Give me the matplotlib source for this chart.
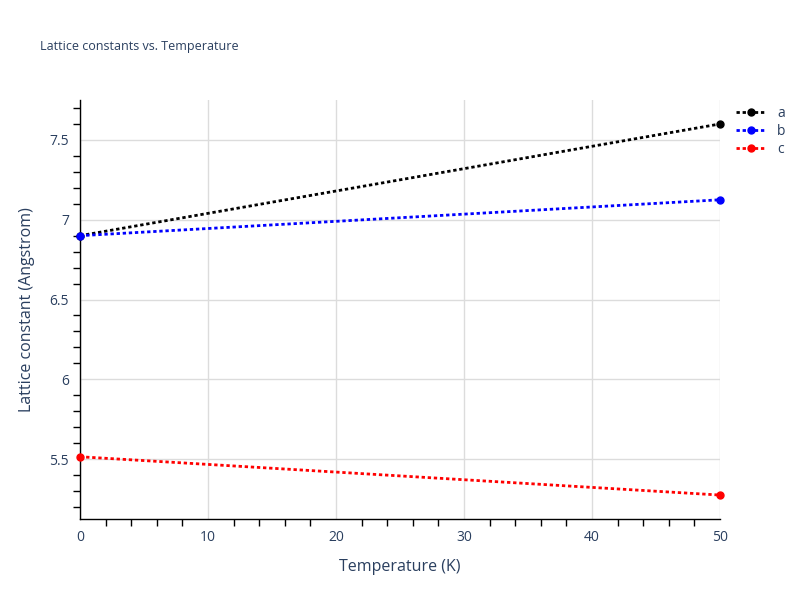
import matplotlib.pyplot as plt
from matplotlib.ticker import MultipleLocator

# Lattice constants vs temperature
temperature = [0, 50]
a_vals = [6.90, 7.60]
b_vals = [6.90, 7.125]
c_vals = [5.515, 5.275]
series_names = ["a", "b", "c"]
series_colors = ["black", "blue", "red"]

plt.rcParams["font.family"] = ["Open Sans", "DejaVu Sans"]
text_color = "#2a3f5f"

fig = plt.figure(figsize=(8, 6), dpi=100)
ax = fig.add_axes([0.1, 0.135, 0.8, 0.6983])

for vals, name, col in zip([a_vals, b_vals, c_vals], series_names, series_colors):
    ax.plot(temperature, vals, linestyle=(0, (1.2, 1.0)), linewidth=2, color=col,
            marker="o", markersize=5, label=name, clip_on=False, zorder=3)

ax.set_xlim(0, 50)
ax.set_ylim(5.125, 7.75)
ax.xaxis.set_major_locator(MultipleLocator(10))
ax.xaxis.set_minor_locator(MultipleLocator(2))
ax.yaxis.set_major_locator(MultipleLocator(0.5))
ax.yaxis.set_minor_locator(MultipleLocator(0.1))
ax.yaxis.set_major_formatter(plt.FuncFormatter(lambda v, p: f"{v:g}"))

ax.grid(True, which="major", color="#dcdcdc", linewidth=1)
ax.set_axisbelow(True)
for s in ["top", "right"]:
    ax.spines[s].set_visible(False)
for s in ["left", "bottom"]:
    ax.spines[s].set_color("black")
    ax.spines[s].set_linewidth(1)

ax.tick_params(which="major", length=0, labelsize=10, labelcolor=text_color, pad=8)
ax.tick_params(which="minor", length=5, width=1, color="black", direction="out")

ax.set_xlabel("Temperature (K)", fontsize=11.5, color=text_color, labelpad=10)
ax.set_ylabel("Lattice constant (Angstrom)", fontsize=11.5, color=text_color, labelpad=10)

fig.text(0.05, 0.923, "Lattice constants vs. Temperature", fontsize=9, color=text_color,
         va="center", ha="left")

leg = ax.legend(loc="upper left", bbox_to_anchor=(1.005, 1.015), frameon=False,
                fontsize=10, handlelength=2.2, labelspacing=0.2, borderaxespad=0.5)
for t in leg.get_texts():
    t.set_color(text_color)

fig.savefig("out.png", dpi=100)
